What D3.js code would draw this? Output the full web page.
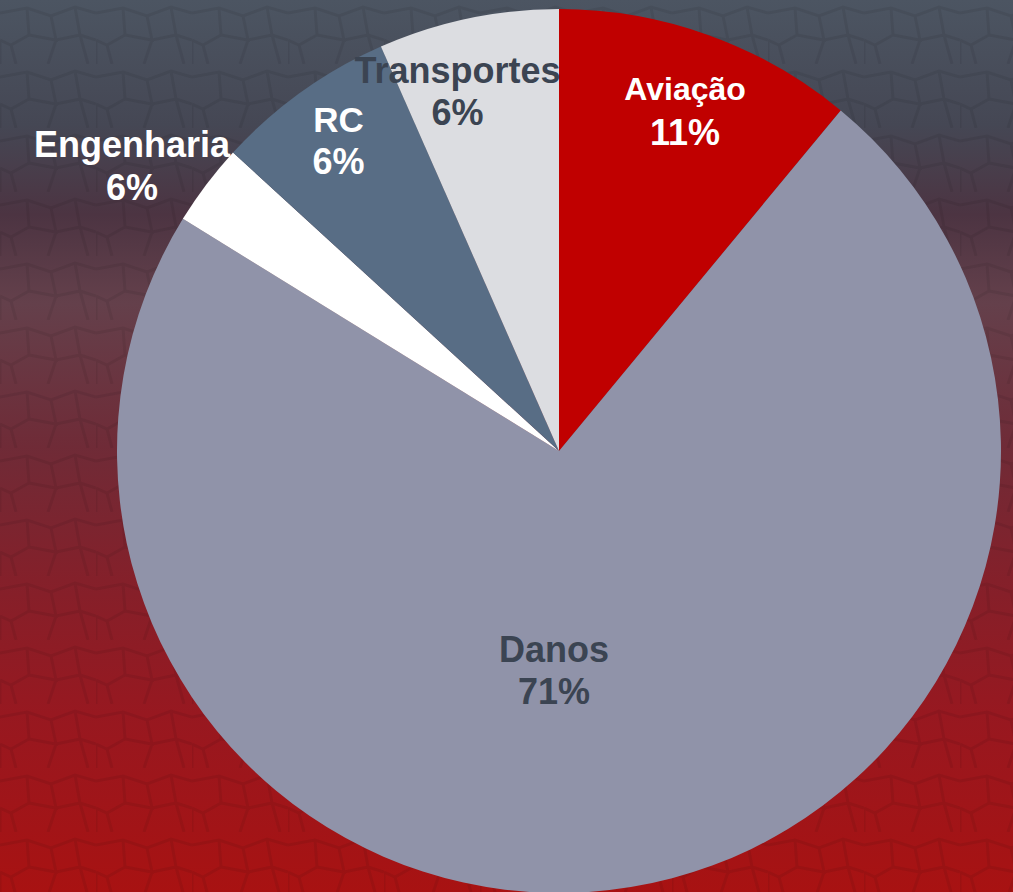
<!DOCTYPE html>
<html>
<head>
<meta charset="utf-8">
<script src="https://cdn.jsdelivr.net/npm/d3@7"></script>
<style>
  html, body { margin: 0; padding: 0; background: #6a2a35; }
  svg { display: block; }
</style>
</head>
<body>
<svg id="chart" width="1013" height="892"></svg>
<script>
// ---- data ----
const categories = ["Aviação", "Danos", "Engenharia", "RC", "Transportes"];
const values = [11.0, 72.8, 3.0, 6.6, 6.6];
const percentLabels = ["11%", "71%", "6%", "6%", "6%"];
const sliceColors = ["#c00000", "#9093a9", "#ffffff", "#586d85", "#dcdde1"];
const labelColors = ["#ffffff", "#3b4452", "#ffffff", "#ffffff", "#3b4452"];

// ---- layout ----
const W = 1013, H = 892;
const cx = 559, cy = 451, R = 442;
const labelRadiusFactor = [0.822, 0.50, 1.069, 0.864, 0.830];
const labelDx = [3, -41, -50, 2, -26];
const labelDy = [0, 2, 0, 0, 0];
const nameFont = [32, 36, 36, 35, 36];
const pctFont = [36, 36, 36, 36, 36];
const lineGap = [45, 42, 43, 42, 42];

const svg = d3.select("#chart");

// background gradient
const defs = svg.append("defs");
const grad = defs.append("linearGradient").attr("id", "bg")
  .attr("x1", 0).attr("y1", 0).attr("x2", 0).attr("y2", 1);
[["0%", "#4c5562"], ["14%", "#454754"], ["24%", "#4c3442"], ["34%", "#64404b"],
 ["50%", "#6f2b37"], ["65%", "#84202a"], ["80%", "#971820"], ["100%", "#a81212"]]
  .forEach(([o, c]) => grad.append("stop").attr("offset", o).attr("stop-color", c));
svg.append("rect").attr("width", W).attr("height", H).attr("fill", "url(#bg)");

// subtle leaf-vein texture
const pat = defs.append("pattern").attr("id", "veins")
  .attr("patternUnits", "userSpaceOnUse").attr("width", 96).attr("height", 64);
pat.append("path")
  .attr("d", "M0,13 L27,8 L51,16 L75,7 L96,13 M27,8 L29,35 L11,45 L0,40 M29,35 L56,40 L51,16 M56,40 L80,35 L75,7 M80,35 L96,40 M11,45 L16,64 M56,40 L48,64 M80,35 L88,64 M0,40 L0,64")
  .attr("fill", "none").attr("stroke", "#000").attr("stroke-opacity", 0.07)
  .attr("stroke-width", 3);
svg.append("rect").attr("width", W).attr("height", H).attr("fill", "url(#veins)");

const pie = d3.pie().sort(null).value(d => d.value);
const arcs = pie(categories.map((c, i) => ({ name: c, value: values[i], i })));
const arc = d3.arc().innerRadius(0).outerRadius(R);

const g = svg.append("g").attr("transform", `translate(${cx},${cy})`);
g.selectAll("path.slice").data(arcs).join("path")
  .attr("class", "slice")
  .attr("d", arc)
  .attr("fill", d => sliceColors[d.data.i]);

const lab = g.selectAll("text.lab").data(arcs).join("text")
  .attr("class", "lab")
  .attr("text-anchor", "middle")
  .attr("font-family", "Liberation Sans, Arial, sans-serif")
  .attr("font-weight", "bold")
  .attr("fill", d => labelColors[d.data.i])
  .attr("transform", d => {
    const i = d.data.i;
    const r = R * labelRadiusFactor[i];
    const a = (d.startAngle + d.endAngle) / 2;
    const x = r * Math.sin(a) + labelDx[i];
    const y = -r * Math.cos(a) + labelDy[i];
    return `translate(${x},${y})`;
  });
lab.append("tspan").attr("x", 0).attr("y", -9)
  .attr("font-size", d => nameFont[d.data.i]).text(d => d.data.name);
lab.append("tspan").attr("x", 0).attr("y", d => -9 + lineGap[d.data.i])
  .attr("font-size", d => pctFont[d.data.i]).text(d => percentLabels[d.data.i]);
</script>
</body>
</html>
